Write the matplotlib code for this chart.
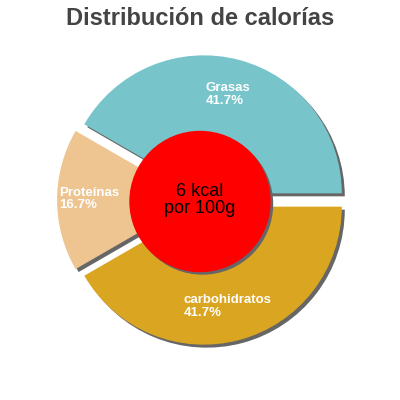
import matplotlib
matplotlib.use("Agg")
import matplotlib.pyplot as plt
from matplotlib.patches import Circle

plt.rcParams['font.family'] = ['Liberation Sans', 'DejaVu Sans']

# --- datos ---
labels = ["Grasas", "Proteínas", "carbohidratos"]
percents = [41.7, 16.7, 41.7]
colors = ["#77c4cb", "#eec591", "#daa520"]
title = "Distribución de calorías"
center_text = "6 kcal\npor 100g"

# posiciones de las etiquetas (coordenadas de imagen, x izquierda / y línea base)
label_pos = [(206, 91), (59, 196), (184, 303)]

fig = plt.figure(figsize=(4, 4), dpi=100)
ax = fig.add_axes([0, 0, 1, 1])

R = 138
cx, cy = 202, 200
# en matplotlib explode va en unidades de datos (px aquí)
explode = [6.9] * len(percents)

# sombra
ax.pie(percents, radius=R, center=(cx + 3, cy - 3), startangle=0,
       explode=explode, colors=["#666666"] * len(percents),
       wedgeprops=dict(linewidth=0), frame=True)
# tarta
ax.pie(percents, radius=R, center=(cx, cy), startangle=0,
       explode=explode, colors=colors,
       wedgeprops=dict(linewidth=0), frame=True)
ax.set_xlim(0, 400)
ax.set_ylim(0, 400)
ax.set_aspect('equal')
ax.axis('off')

# círculo central
ax.add_patch(Circle((202.5, 196), 70, color="#666666", zorder=5))
ax.add_patch(Circle((200, 198.5), 70, color="#ff0000", zorder=6))
ax.text(200, 400 - 200, center_text, ha='center', va='center', fontsize=13,
        color='black', zorder=7, linespacing=1.0)

for name, p, (x, y) in zip(labels, percents, label_pos):
    ax.text(x, 400 - y, name, ha='left', va='baseline', fontsize=9.5,
            fontweight='bold', color='white', zorder=4)
    ax.text(x, 400 - y - 12.5, f"{p}%", ha='left', va='baseline', fontsize=9.5,
            fontweight='bold', color='white', zorder=4)

ax.text(200, 400 - 25, title, ha='center', va='baseline', fontsize=17,
        fontweight='bold', color='#444444')

fig.savefig("out.png", dpi=100)
